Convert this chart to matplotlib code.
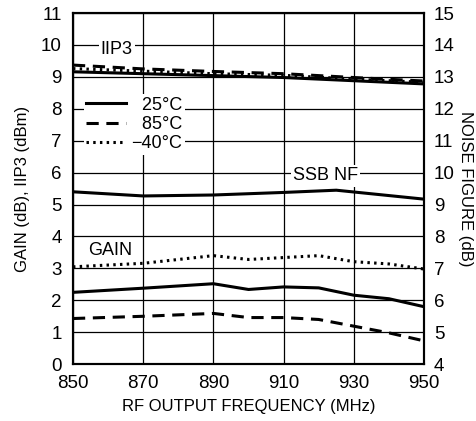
import matplotlib
matplotlib.use("Agg")
import matplotlib.pyplot as plt

plt.rcParams['font.family'] = ['Liberation Sans', 'DejaVu Sans']

freq = [850, 870, 890, 900, 910, 920, 930, 940, 950]
freq_nf = [850, 870, 890, 910, 925, 950]
freq_iip3 = [850, 870, 890, 910, 930, 950]

gain_25 = [2.25, 2.38, 2.52, 2.34, 2.42, 2.39, 2.16, 2.05, 1.80]
gain_85 = [1.43, 1.50, 1.59, 1.46, 1.46, 1.40, 1.19, 0.98, 0.73]
gain_m40 = [3.05, 3.16, 3.40, 3.28, 3.34, 3.40, 3.21, 3.14, 2.98]

iip3_25 = [9.16, 9.10, 9.04, 8.98, 8.88, 8.78]
iip3_85 = [9.37, 9.25, 9.17, 9.10, 8.98, 8.87]
iip3_m40 = [9.26, 9.18, 9.10, 9.05, 8.93, 8.83]

nf_25 = [9.40, 9.27, 9.30, 9.38, 9.45, 9.17]

fig = plt.figure(figsize=(4.77, 4.21), dpi=100)
ax = fig.add_axes([0.153, 0.135, 0.736, 0.834])
ax2 = ax.twinx()

ax.set_xlim(850, 950)
ax.set_ylim(0, 11)
ax2.set_ylim(4, 15)
ax.set_xticks([850, 870, 890, 910, 930, 950])
ax.set_yticks(range(0, 12))
ax2.set_yticks(range(4, 16))
ax.grid(True, color="black", linewidth=0.9)
ax.set_axisbelow(True)

lw = 2.2
ax.plot(freq, gain_25, color="black", lw=lw, label="  25°C")
ax.plot(freq, gain_85, color="black", lw=lw, ls=(0, (4, 2.5)), label="  85°C")
ax.plot(freq, gain_m40, color="black", lw=lw, ls=(0, (0.8, 1.4)), label="\u221240°C")
ax.plot(freq_iip3, iip3_85, color="black", lw=lw, ls=(0, (4, 2.5)))
ax.plot(freq_iip3, iip3_m40, color="black", lw=lw, ls=(0, (0.8, 1.4)))
ax.plot(freq_iip3, iip3_25, color="black", lw=lw)
ax2.plot(freq_nf, nf_25, color="black", lw=lw)

box = dict(facecolor="white", edgecolor="none", pad=1.5)
ax.text(862.5, 9.85, "IIP3", fontsize=13, ha="center", va="center", bbox=box)
ax.text(922, 5.9, "SSB NF", fontsize=13, ha="center", va="center", bbox=box)
ax.text(860.5, 3.55, "GAIN", fontsize=13, ha="center", va="center")

leg = ax.legend(loc="upper left", bbox_to_anchor=(0.005, 0.795), frameon=True,
                fontsize=13, handlelength=2.2, handletextpad=0.3,
                labelspacing=0.12, borderpad=0.15)
leg.get_frame().set_facecolor("white")
leg.get_frame().set_edgecolor("none")
leg.get_frame().set_alpha(1)

for a in (ax, ax2):
  for s in a.spines.values():
    s.set_linewidth(1.5)
  a.tick_params(labelsize=13.5, length=0)
ax.tick_params(axis="y", pad=8)
ax.tick_params(axis="x", pad=8)
ax2.tick_params(axis="y", pad=7)

ax.set_xlabel("RF OUTPUT FREQUENCY (MHz)", fontsize=12, labelpad=5)
ax.set_ylabel("GAIN (dB), IIP3 (dBm)", fontsize=12, labelpad=8)
ax2.set_ylabel("NOISE FIGURE (dB)", fontsize=12, rotation=270, labelpad=13)

fig.savefig("out.png", dpi=100)
